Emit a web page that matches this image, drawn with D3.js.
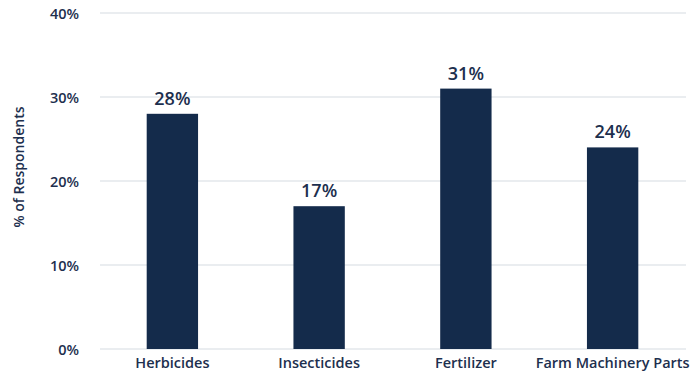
<!DOCTYPE html>
<html>
<head>
<meta charset="utf-8">
<script src="https://cdn.jsdelivr.net/npm/d3@7"></script>
<style>
  html, body { margin: 0; padding: 0; background: #fff; }
  svg { display: block; }
  svg text { font-family: "Open Sans", Lato, sans-serif; }
</style>
</head>
<body>
<svg id="chart" width="690" height="377"></svg>
<script>
// Survey results: share of respondents per input category
const categories = ["Herbicides", "Insecticides", "Fertilizer", "Farm Machinery Parts"];
const values = [28, 17, 31, 24];
const yTicks = [0, 10, 20, 30, 40];

const W = 690, H = 377;
const margin = { top: 13, right: 4, bottom: 28, left: 99 };
const svg = d3.select("#chart");

const x = d3.scaleBand()
  .domain(categories)
  .range([margin.left, W - margin.right])
  .padding(0);

const y = d3.scaleLinear()
  .domain([0, 40])
  .range([H - margin.bottom, margin.top]);

const textColor = "#1d2f4e";
const barColor = "#142b4b";
const barW = x.bandwidth() * 0.35;

// horizontal gridlines
svg.append("g")
  .selectAll("line")
  .data(yTicks)
  .join("line")
  .attr("x1", margin.left + 1)
  .attr("x2", W - margin.right)
  .attr("y1", d => y(d))
  .attr("y2", d => y(d))
  .attr("stroke", "#d6dce2")
  .attr("stroke-width", 1.2);

// y axis tick labels
const yAxis = d3.axisLeft(y)
  .tickValues(yTicks)
  .tickFormat(d => d + "%")
  .tickSize(0)
  .tickPadding(0);

const gy = svg.append("g")
  .attr("transform", `translate(${79},0)`)
  .call(yAxis);
gy.select(".domain").remove();
gy.selectAll("text")
  .attr("fill", textColor)
  .style("font-size", "14.5px")
  .style("font-weight", "600")
  .attr("dy", "0.35em");

// x axis category labels
const xAxis = d3.axisBottom(x).tickSize(0).tickPadding(0);
const gx = svg.append("g")
  .attr("transform", `translate(0,${H - margin.bottom + 9})`)
  .call(xAxis);
gx.select(".domain").remove();
gx.selectAll("text")
  .attr("fill", textColor)
  .style("font-size", "14.5px")
  .style("font-weight", "600")
  .attr("dy", "0.71em");

// bars
svg.append("g")
  .selectAll("rect")
  .data(values)
  .join("rect")
  .attr("x", (d, i) => x(categories[i]) + (x.bandwidth() - barW) / 2)
  .attr("width", barW)
  .attr("y", d => y(d))
  .attr("height", d => y(0) - y(d))
  .attr("fill", barColor);

// value labels above the bars
svg.append("g")
  .selectAll("text")
  .data(values)
  .join("text")
  .attr("x", (d, i) => x(categories[i]) + x.bandwidth() / 2)
  .attr("y", d => y(d) - 9)
  .attr("text-anchor", "middle")
  .attr("fill", textColor)
  .style("font-size", "18px")
  .style("font-weight", "600")
  .text(d => d + "%");

// y axis title
svg.append("text")
  .attr("transform", `translate(24,167) rotate(-90)`)
  .attr("text-anchor", "middle")
  .attr("fill", textColor)
  .style("font-size", "14px")
  .style("font-weight", "600")
  .text("% of Respondents");
</script>
</body>
</html>
